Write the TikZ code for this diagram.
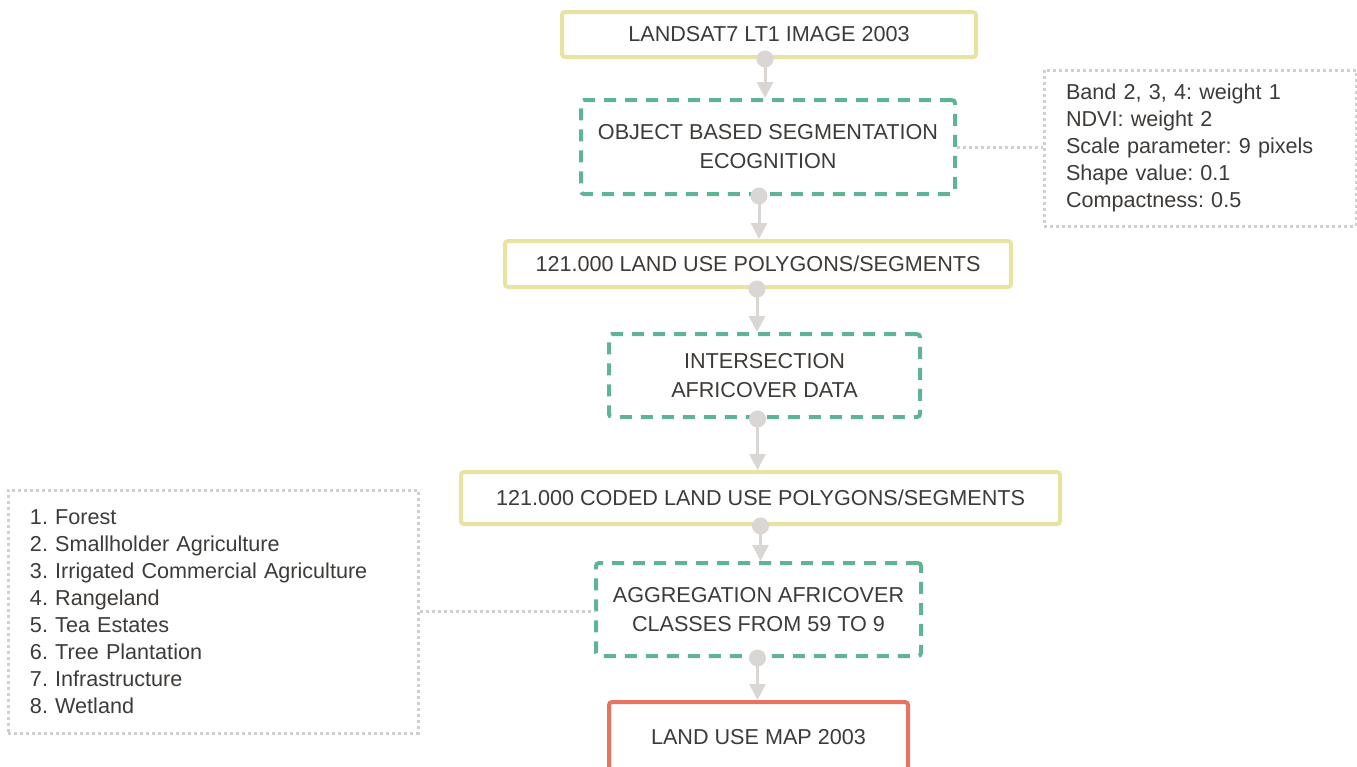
\documentclass[tikz,border=0pt]{standalone}
\usepackage{fontspec}
\setmainfont{Liberation Sans}
\usetikzlibrary{arrows.meta}
\definecolor{boxyellow}{HTML}{E9E3A2}
\definecolor{boxgreen}{HTML}{5FB593}
\definecolor{boxred}{HTML}{E8735F}
\definecolor{flowgrey}{HTML}{D9D6D3}
\definecolor{dotgrey}{HTML}{D0CFCE}
\definecolor{txt}{HTML}{3D3A37}
\frenchspacing

\begin{document}
\begin{tikzpicture}[x=0.5pt,y=-0.5pt,
    every node/.style={text=txt,font=\fontsize{10.8pt}{14.5pt}\selectfont,align=center,inner sep=0pt},
    datbox/.style={draw=boxyellow,line width=2pt,rounded corners=1.5pt},
    procbox/.style={draw=boxgreen,line width=2pt,rounded corners=1.5pt,dash pattern=on 6pt off 4.5pt},
    endbox/.style={draw=boxred,line width=2pt,rounded corners=1.5pt},
    notebox/.style={draw=dotgrey,line width=1.5pt,dash pattern=on 1.5pt off 1.5pt,align=left,inner xsep=11pt,
      font=\fontsize{10.8pt}{13.5pt}\selectfont},
    flow/.style={draw=flowgrey,line width=1.5pt,shorten <=-4.25pt,
      {Circle[length=8.5pt]}-{Triangle[width=8pt,length=8pt]}},
    note/.style={draw=dotgrey,line width=1.5pt,dash pattern=on 1.5pt off 1.5pt}]
  \useasboundingbox (0,0) rectangle (1357,767);

  \node[datbox,minimum width=207pt,minimum height=22.5pt] (landsat) at (769,34.5) {LANDSAT7 LT1 IMAGE 2003};
  \node[procbox,minimum width=187pt,minimum height=47pt] (segment) at (768,147) {OBJECT BASED SEGMENTATION\\ECOGNITION};
  \node[datbox,minimum width=253pt,minimum height=23pt] (polygons) at (758,264) {121.000 LAND USE POLYGONS/SEGMENTS};
  \node[procbox,minimum width=155.5pt,minimum height=41.5pt] (intersect) at (764.5,375.5) {INTERSECTION\\AFRICOVER DATA};
  \node[datbox,minimum width=299.5pt,minimum height=26pt] (coded) at (760.5,498) {121.000 CODED LAND USE POLYGONS/SEGMENTS};
  \node[procbox,minimum width=162.5pt,minimum height=46.5pt] (aggregate) at (758.5,609.5) {AGGREGATION AFRICOVER\\CLASSES FROM 59 TO 9};
  \node[endbox,minimum width=149.5pt,minimum height=35pt] (landuse) at (758.5,737) {LAND USE MAP 2003};

  % side notes
  \node[notebox,text width=134pt,minimum height=78pt] (params) at (1200,148)
    {Band 2, 3, 4: weight 1\\NDVI: weight 2\\Scale parameter: 9 pixels\\Shape value: 0.1\\Compactness: 0.5};
  \node[notebox,text width=183pt,minimum height=121.5pt] (classes) at (213,611.5)
    {1. Forest\\2. Smallholder Agriculture\\3. Irrigated Commercial Agriculture\\4. Rangeland\\5. Tea Estates\\6. Tree Plantation\\7. Infrastructure\\8. Wetland};

  \foreach \src/\dst/\dx in {landsat/segment/-2, segment/polygons/-4.5, polygons/intersect/-0.5,
      intersect/coded/-3.5, coded/aggregate/0, aggregate/landuse/-0.5}
    \draw[flow] ([xshift=\dx pt]\src.south) -- ([xshift=\dx pt]\src.south |- \dst.north);

  \draw[note] (segment.east) -- (segment.east -| params.west);
  \draw[note] (classes.east) -- (classes.east -| aggregate.west);
\end{tikzpicture}
\end{document}
